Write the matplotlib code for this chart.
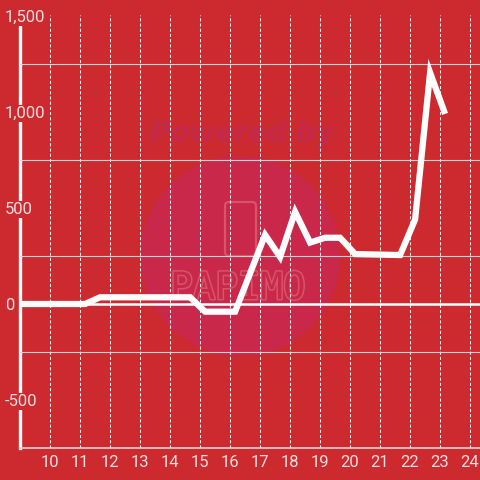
import numpy as np
import matplotlib
matplotlib.use("Agg")
import matplotlib.pyplot as plt
import matplotlib.patheffects as pe
from matplotlib.patches import Circle, FancyBboxPatch
from matplotlib.ticker import FixedLocator, FuncFormatter

# data (hour of day -> value)
hours = [9.0, 11.17, 11.67, 14.67, 15.17, 16.17, 17.17, 17.67, 18.17,
         18.67, 19.17, 19.67, 20.17, 21.67, 22.17, 22.67, 23.17]
values = [0, 0, 35, 35, -40, -40, 360, 245, 480,
          320, 345, 345, 260, 255, 440, 1205, 990]
x_ticks = list(range(10, 25))
y_ticks = [-500, 0, 500, 1000, 1500]
y_grid = [-500, -250, 0, 250, 500, 750, 1000, 1250, 1500]

bg = "#cc2a2f"
label_col = "#f3dcdc"
plt.rcParams["font.family"] = ["Roboto", "DejaVu Sans"]

fig = plt.figure(figsize=(4.8, 4.8), dpi=100, facecolor=bg)

# watermark behind the axes (figure pixel coords / 480)
W = 480.0
circle_col = "#c9284a"
fig.patches.append(Circle((240 / W, 1 - 256 / W), 100 / W, transform=fig.transFigure,
                          facecolor=circle_col, edgecolor="none", zorder=-2))
fig.patches.append(FancyBboxPatch((225 / W, 1 - 256 / W), 31 / W, 54 / W,
                                  boxstyle="round,pad=0,rounding_size=0.008",
                                  transform=fig.transFigure, facecolor="none",
                                  edgecolor="#d65566", lw=1.6, zorder=-1))
fig.text(242 / W, 1 - 134 / W, "Powered by", fontsize=20, fontweight="bold",
         fontstyle="italic", color="#c4294a", ha="center", va="center",
         family="DejaVu Sans", zorder=-1)
fig.text(238 / W, 1 - 289 / W, "PAPIMO", fontsize=27, color=circle_col,
         ha="center", va="center", family="DejaVu Sans Mono", zorder=-1,
         path_effects=[pe.Stroke(linewidth=2.2, foreground="#d65566"), pe.Normal()])

ax = fig.add_axes([20 / W, 32 / W, 460 / W, 433 / W])
ax.set_facecolor("none")
ax.set_xlim(9.0, 9.0 + 460 / 30)
ax.set_ylim(-750, 1500 + 500 / 96)

# grid
ax.xaxis.set_major_locator(FixedLocator(x_ticks))
ax.yaxis.set_major_locator(FixedLocator(y_ticks))
ax.yaxis.set_minor_locator(FixedLocator(y_grid))
ax.yaxis.set_major_formatter(FuncFormatter(lambda v, p: f"{int(v):,}"))
ax.grid(axis="x", which="major", color="#eeeeee", lw=0.75, linestyle=(0, (3, 2)))
ax.grid(axis="y", which="minor", color="#d4d4d4", lw=0.8)

ax.tick_params(axis="both", which="both", length=0)
ax.tick_params(axis="x", colors=label_col, labelsize=12, pad=5)
ax.tick_params(axis="y", colors=label_col, labelsize=12, pad=11)
for lab in ax.get_yticklabels():
    lab.set_horizontalalignment("left")
    lab.set_bbox(dict(facecolor=bg, edgecolor="none", pad=1))

ax.xaxis.set_zorder(1)
ax.yaxis.set_zorder(3)

for side in ["top", "right"]:
    ax.spines[side].set_visible(False)
ax.spines["left"].set_color("white")
ax.spines["left"].set_linewidth(2.4)
ax.spines["left"].set_zorder(2.5)
ax.spines["bottom"].set_color("#d4d4d4")
ax.spines["bottom"].set_linewidth(1.2)

ax.axhline(0, color="white", lw=1.8, zorder=3.5)
ax.plot(hours, values, color="white", lw=4.5, solid_joinstyle="miter",
        solid_capstyle="butt", zorder=4)

fig.savefig("out.png", dpi=100, facecolor=bg)
